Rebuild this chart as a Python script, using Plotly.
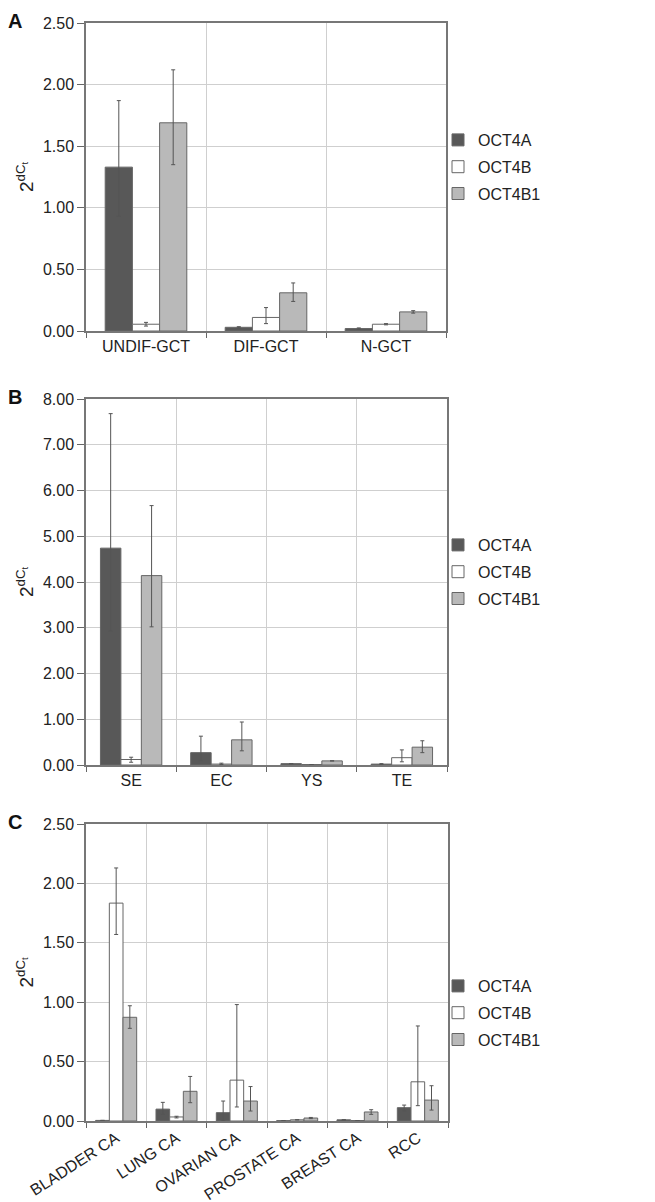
import plotly.graph_objects as go

# ---------------- data ----------------
series_names = ["OCT4A", "OCT4B", "OCT4B1"]

cats_A = ["UNDIF-GCT", "DIF-GCT", "N-GCT"]
A_val = {
    "OCT4A":  [1.33, 0.03, 0.02],
    "OCT4B":  [0.055, 0.11, 0.055],
    "OCT4B1": [1.69, 0.31, 0.155],
}
A_hi = {
    "OCT4A":  [1.87, 0.035, 0.025],
    "OCT4B":  [0.07, 0.19, 0.06],
    "OCT4B1": [2.12, 0.39, 0.165],
}
A_lo = {
    "OCT4A":  [0.93, 0.025, 0.015],
    "OCT4B":  [0.04, 0.06, 0.05],
    "OCT4B1": [1.35, 0.24, 0.145],
}

cats_B = ["SE", "EC", "YS", "TE"]
B_val = {
    "OCT4A":  [4.74, 0.27, 0.03, 0.02],
    "OCT4B":  [0.12, 0.02, 0.01, 0.16],
    "OCT4B1": [4.14, 0.55, 0.09, 0.39],
}
B_hi = {
    "OCT4A":  [7.68, 0.63, 0.03, 0.03],
    "OCT4B":  [0.17, 0.04, 0.01, 0.33],
    "OCT4B1": [5.67, 0.94, 0.09, 0.53],
}
B_lo = {
    "OCT4A":  [2.93, 0.09, 0.03, 0.01],
    "OCT4B":  [0.06, 0.01, 0.01, 0.07],
    "OCT4B1": [3.02, 0.31, 0.09, 0.27],
}

cats_C = ["BLADDER CA", "LUNG CA", "OVARIAN CA", "PROSTATE CA", "BREAST CA", "RCC"]
C_val = {
    "OCT4A":  [0.005, 0.10, 0.07, 0.003, 0.01, 0.112],
    "OCT4B":  [1.834, 0.034, 0.344, 0.01, 0.004, 0.33],
    "OCT4B1": [0.873, 0.25, 0.168, 0.025, 0.076, 0.176],
}
C_hi = {
    "OCT4A":  [0.005, 0.157, 0.168, 0.003, 0.01, 0.134],
    "OCT4B":  [2.13, 0.04, 0.98, 0.01, 0.004, 0.80],
    "OCT4B1": [0.97, 0.375, 0.29, 0.03, 0.095, 0.297],
}
C_lo = {
    "OCT4A":  [0.005, 0.056, 0.0, 0.003, 0.01, 0.086],
    "OCT4B":  [1.57, 0.026, 0.118, 0.01, 0.004, 0.129],
    "OCT4B1": [0.78, 0.154, 0.084, 0.02, 0.056, 0.092],
}

yticks_A = [0, 0.5, 1.0, 1.5, 2.0, 2.5]
yticks_B = [0, 1, 2, 3, 4, 5, 6, 7, 8]
yticks_C = [0, 0.5, 1.0, 1.5, 2.0, 2.5]

# ---------------- style ----------------
FONT = "Liberation Sans, Arial, sans-serif"
fill = {"OCT4A": "#585858", "OCT4B": "#ffffff", "OCT4B1": "#b9b9b9"}
outline = "#666666"
W, H = 655, 1202

panels = [
    dict(cats=cats_A, val=A_val, hi=A_hi, lo=A_lo, ticks=yticks_A, rng=[0, 2.5],
         top=15, bottom=323, x0=78, x1=438, letter="A", legend="legend", ly=140,
         tickangle=0, xfs=16),
    dict(cats=cats_B, val=B_val, hi=B_hi, lo=B_lo, ticks=yticks_B, rng=[0, 8],
         top=391, bottom=757, x0=78, x1=439, letter="B", legend="legend2", ly=545,
         tickangle=0, xfs=16),
    dict(cats=cats_C, val=C_val, hi=C_hi, lo=C_lo, ticks=yticks_C, rng=[0, 2.5],
         top=816, bottom=1113, x0=78, x1=440, letter="C", legend="legend3", ly=986,
         tickangle=-33, xfs=16),
]

fig = go.Figure()
layout = dict(
    width=W, height=H, margin=dict(l=0, r=0, t=0, b=0),
    paper_bgcolor="white", plot_bgcolor="white",
    font=dict(family=FONT, color="#222"),
    barmode="group", bargap=0.32, bargroupgap=0.0,
    annotations=[],
)

for i, p in enumerate(panels):
    n = "" if i == 0 else str(i + 1)
    xa, ya = "x" + n, "y" + n
    for s in series_names:
        v = p["val"][s]
        up = [max(h - a, 0) for h, a in zip(p["hi"][s], v)]
        dn = [max(a - l, 0) for a, l in zip(v, p["lo"][s])]
        fig.add_trace(go.Bar(
            x=p["cats"], y=v, name=s, xaxis=xa, yaxis=ya,
            legend=p["legend"], legendgroup=s + n,
            marker=dict(color=fill[s], line=dict(color=outline, width=1)),
            error_y=dict(type="data", symmetric=False, array=up, arrayminus=dn,
                         color="#555", thickness=1, width=2),
        ))
    dom_y = [1 - p["bottom"] / H, 1 - p["top"] / H]
    dom_x = [p["x0"] / W, p["x1"] / W]
    layout["xaxis" + n] = dict(
        domain=dom_x, anchor=ya, type="category",
        tickson="boundaries", ticks="outside", ticklen=5, tickcolor="#666",
        showgrid=True, gridcolor="#cfcfcf", gridwidth=1,
        showline=True, linecolor="#777", linewidth=1.5, mirror=True,
        tickfont=dict(size=p["xfs"], family=FONT, color="#222"),
        tickangle=p["tickangle"], automargin=False, fixedrange=True,
    )
    layout["yaxis" + n] = dict(
        domain=dom_y, anchor=xa, range=p["rng"],
        tickvals=p["ticks"], ticktext=["%.2f" % t for t in p["ticks"]],
        ticks="outside", ticklen=7, tickcolor="#666",
        showgrid=True, gridcolor="#cfcfcf", gridwidth=1,
        showline=True, linecolor="#777", linewidth=1.5, mirror=True,
        zeroline=False,
        tickfont=dict(size=16, family=FONT, color="#222"),
        title=dict(text="2<sup>dC<sub>t</sub></sup>", font=dict(size=19, family=FONT), standoff=4),
        automargin=False, fixedrange=True,
    )
    layout[p["legend"]] = dict(
        x=430 / W, y=1 - (p["ly"] - 25) / H, xanchor="left", yanchor="top",
        font=dict(size=16, family=FONT, color="#222"),
        bgcolor="rgba(0,0,0,0)", tracegroupgap=3, itemwidth=30,
    )
    layout["annotations"].append(dict(
        text="<b>%s</b>" % p["letter"], x=-2 / W, y=1 - (p["top"] - 2) / H,
        xref="paper", yref="paper", xanchor="left", yanchor="middle",
        showarrow=False, font=dict(size=20, family=FONT, color="#111"),
    ))

fig.update_layout(**layout)
fig.write_html("out.html")
